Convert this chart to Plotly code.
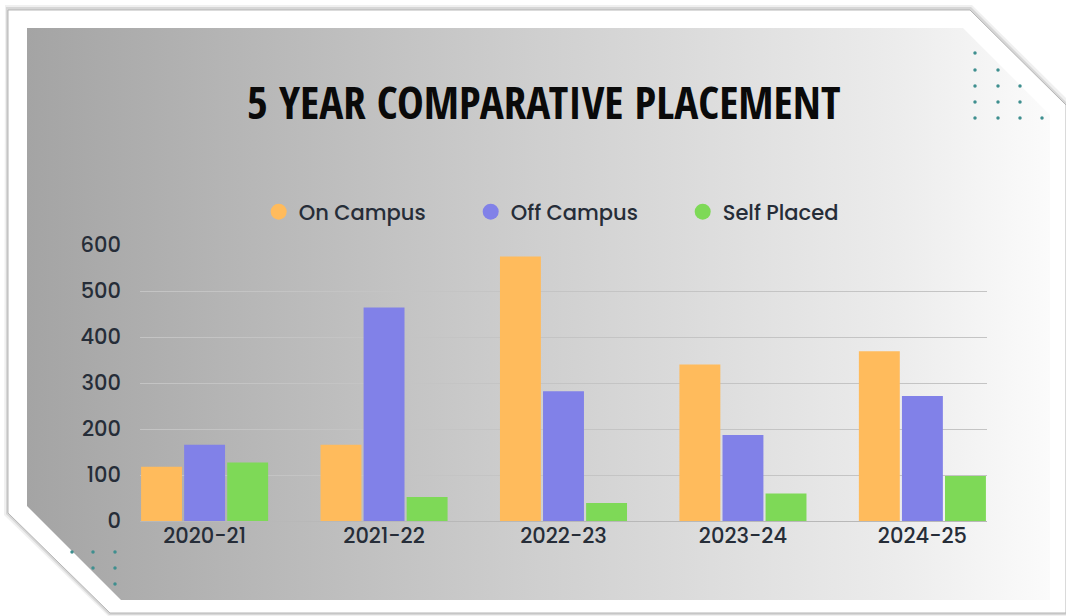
import plotly.graph_objects as go

W, H = 1066, 616

years = ["2020-21", "2021-22", "2022-23", "2023-24", "2024-25"]
on_campus = [118, 166, 575, 340, 369]
off_campus = [166, 464, 282, 187, 272]
self_placed = [127, 52, 39, 60, 98]
y_ticks = [0, 100, 200, 300, 400, 500, 600]

series = [
    ("On Campus", on_campus, "#FFBB5C"),
    ("Off Campus", off_campus, "#8181E8"),
    ("Self Placed", self_placed, "#7ED957"),
]

FONT = "Poppins, Lato, 'Open Sans', sans-serif"
TXT = "#262D38"

fig = go.Figure()

def poly(pts):
    xs = [p[0] for p in pts] + [pts[0][0]]
    ys = [H - p[1] for p in pts] + [H - pts[0][1]]
    return xs, ys

# gradient panel drawn on full-figure background axes (x, y)
panel = [(27, 28), (963, 28), (1050, 115), (1050, 600), (121, 600), (27, 506)]
px, py = poly(panel)
fig.add_trace(go.Scatter(
    x=px, y=py, mode="lines", fill="toself", line=dict(width=0),
    fillgradient=dict(type="horizontal",
                      colorscale=[[0, "#a4a4a4"], [0.5, "#cfcfcf"], [0.85, "#ececec"], [1, "#fbfbfb"]]),
    hoverinfo="skip", showlegend=False, xaxis="x", yaxis="y"))

# decorative dots
dots_x = [975, 975, 998, 975, 998, 1020, 975, 998, 1020, 975, 998, 1020, 1042, 93, 115, 93, 115, 115, 72]
dots_y = [53, 70, 70, 86, 86, 86, 102, 102, 102, 118, 118, 118, 118, 552, 552, 568, 568, 584, 552]
fig.add_trace(go.Scatter(
    x=dots_x, y=[H - v for v in dots_y], mode="markers",
    marker=dict(size=3.5, color="#3E8F8F"), hoverinfo="skip", showlegend=False,
    xaxis="x", yaxis="y"))

# bars + circular legend markers
for name, vals, col in series:
    fig.add_trace(go.Bar(
        x=years, y=vals, name=name, marker=dict(color=col, line=dict(width=0)),
        showlegend=False, xaxis="x2", yaxis="y2"))
    fig.add_trace(go.Scatter(
        x=[None], y=[None], mode="markers", name=name,
        marker=dict(symbol="circle", size=16, color=col),
        xaxis="x2", yaxis="y2"))

def path(pts):
    return "M " + " L ".join(f"{x/W:.5f},{1 - y/H:.5f}" for x, y in pts) + " Z"

card = [(8, 10), (970, 10), (1066, 105), (1066, 613), (110, 613), (8, 513)]
shadow1 = [(5, 5), (972, 5), (1070, 102), (1070, 616), (108, 616), (4, 515)]
shadow2 = [(6, 7), (971, 7), (1068, 104), (1068, 615), (109, 615), (6, 514)]

shapes = [
    dict(type="path", xref="paper", yref="paper", path=path(shadow1),
         fillcolor="rgba(0,0,0,0.06)", line=dict(width=0), layer="below"),
    dict(type="path", xref="paper", yref="paper", path=path(shadow2),
         fillcolor="rgba(0,0,0,0.10)", line=dict(width=0), layer="below"),
    dict(type="path", xref="paper", yref="paper", path=path(card),
         fillcolor="#ffffff", line=dict(width=1, color="#b5b5b5"), layer="below"),
]

x0, x1 = 140, 987
ytop, ybot = 245, 521

fig.update_layout(
    width=W, height=H,
    margin=dict(l=0, r=0, t=0, b=0, autoexpand=False),
    paper_bgcolor="#ffffff",
    plot_bgcolor="rgba(0,0,0,0)",
    shapes=shapes,
    barmode="group", bargap=0.28, bargroupgap=0.05,
    xaxis=dict(domain=[0, 1], range=[0, W], visible=False, fixedrange=True),
    yaxis=dict(domain=[0, 1], range=[0, H], visible=False, fixedrange=True),
    xaxis2=dict(domain=[x0 / W, x1 / W], anchor="y2", range=[-0.36, 4.36],
                showgrid=False, showline=True, linecolor="#b8b8b8", linewidth=1,
                ticks="", ticklabelstandoff=-4, automargin=False,
                tickfont=dict(family=FONT, size=21, color=TXT, weight=500),
                type="category"),
    yaxis2=dict(domain=[1 - ybot / H, 1 - ytop / H], anchor="x2", range=[0, 600],
                tickvals=y_ticks, showgrid=True, gridcolor="#c4c4c4", gridwidth=1,
                zeroline=False, showline=False, ticks="", automargin=False,
                ticklabelstandoff=18,
                tickfont=dict(family=FONT, size=21, color=TXT, weight=500)),
    legend=dict(orientation="h", x=0.541, xanchor="center", y=1 - 212 / H, yanchor="middle",
                bgcolor="rgba(0,0,0,0)",
                font=dict(family=FONT, size=21, color=TXT, weight=500),
                entrywidth=167, itemsizing="trace"),
    title=dict(text="5 YEAR COMPARATIVE PLACEMENT", x=0.510, xanchor="center",
               y=1 - 103 / H, yanchor="middle", automargin=False,
               font=dict(family="'Open Sans Condensed', 'Roboto Condensed', 'DejaVu Sans'",
                         size=45, color="#0a0a0a", weight=800)),
    hovermode=False,
)

fig.write_html(
    "out.html",
    config=dict(displayModeBar=False),
    post_script="document.body.style.margin='0';document.body.style.padding='0';"
                "document.documentElement.style.overflow='hidden';",
)
